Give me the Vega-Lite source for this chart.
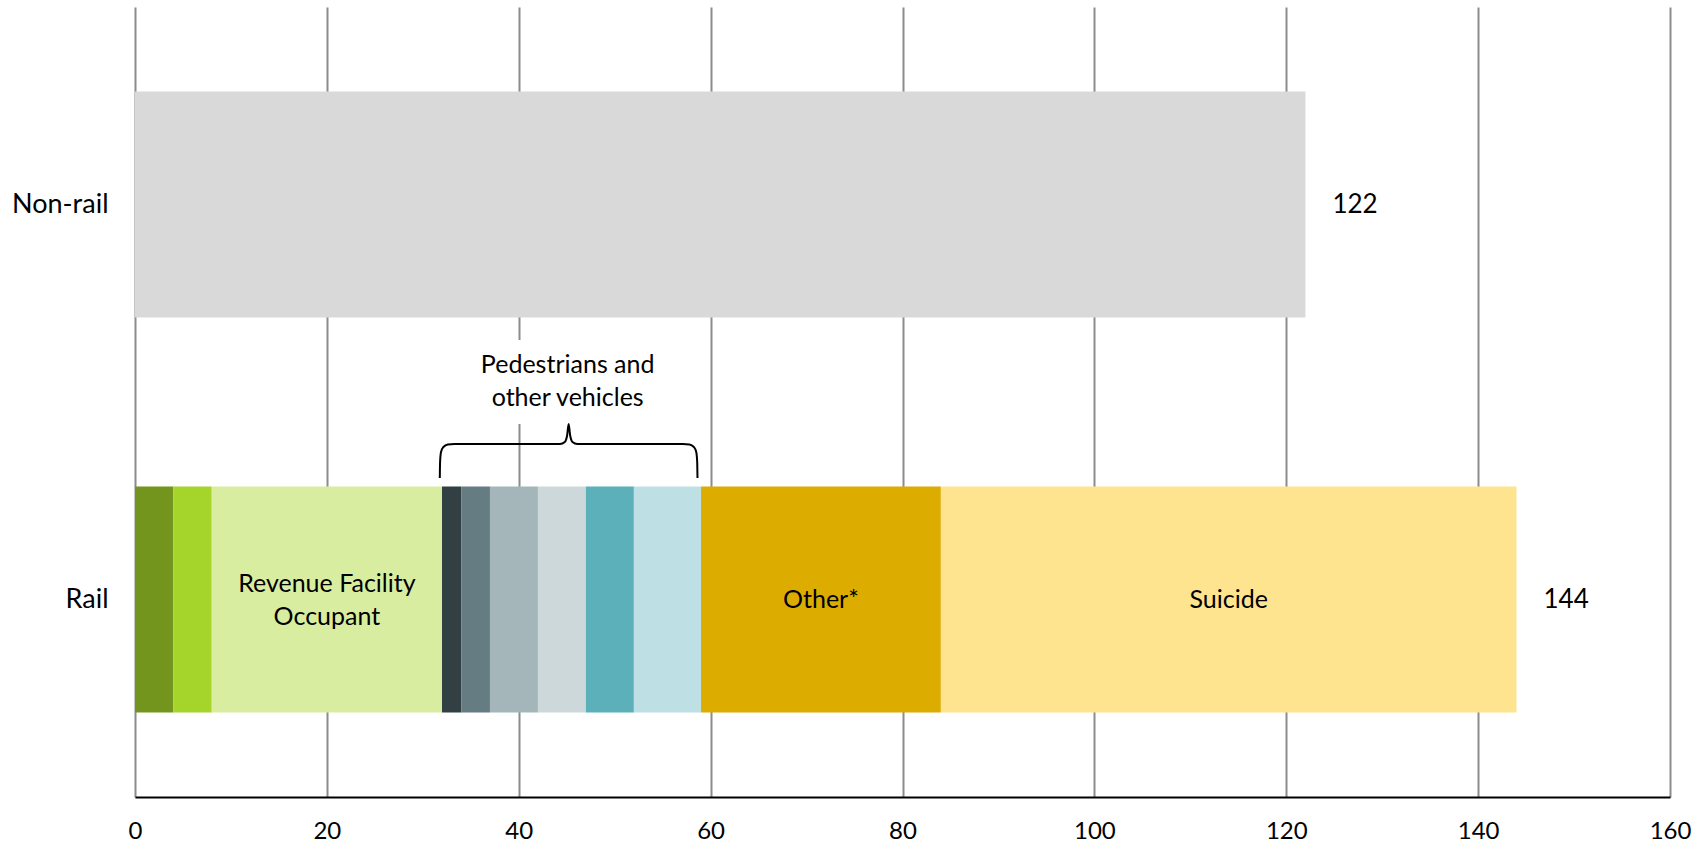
{
  "$schema": "https://vega.github.io/schema/vega-lite/v6.json",
  "width": 1535,
  "height": 790,
  "autosize": {"type": "none"},
  "padding": {"left": 135, "top": 7, "right": 36, "bottom": 47},
  "background": "white",
  "config": {"view": {"stroke": null}, "font": "Lato", "text": {"font": "Lato"}},
  "datasets": {
    "segments": [
      {"category": "Non-rail", "segment": "Non-rail", "value": 122, "order": 1, "label": ""},
      {"category": "Rail", "segment": "Rail A", "value": 4, "order": 1, "label": ""},
      {"category": "Rail", "segment": "Rail B", "value": 4, "order": 2, "label": ""},
      {"category": "Rail", "segment": "Revenue Facility Occupant", "value": 24, "order": 3, "label": "Revenue Facility\nOccupant"},
      {"category": "Rail", "segment": "Pedestrians/vehicles 1", "value": 2, "order": 4, "label": ""},
      {"category": "Rail", "segment": "Pedestrians/vehicles 2", "value": 3, "order": 5, "label": ""},
      {"category": "Rail", "segment": "Pedestrians/vehicles 3", "value": 5, "order": 6, "label": ""},
      {"category": "Rail", "segment": "Pedestrians/vehicles 4", "value": 5, "order": 7, "label": ""},
      {"category": "Rail", "segment": "Pedestrians/vehicles 5", "value": 5, "order": 8, "label": ""},
      {"category": "Rail", "segment": "Pedestrians/vehicles 6", "value": 7, "order": 9, "label": ""},
      {"category": "Rail", "segment": "Other*", "value": 25, "order": 10, "label": "Other*"},
      {"category": "Rail", "segment": "Suicide", "value": 60, "order": 11, "label": "Suicide"}
    ],
    "brace": [
      {"i": 1, "x": 31.77, "y": 319},
      {"i": 2, "x": 31.8, "y": 335},
      {"i": 3, "x": 31.9, "y": 345},
      {"i": 4, "x": 32.15, "y": 350},
      {"i": 5, "x": 32.6, "y": 352.5},
      {"i": 6, "x": 33.3, "y": 353},
      {"i": 7, "x": 44.3, "y": 353},
      {"i": 8, "x": 44.8, "y": 355},
      {"i": 9, "x": 45.05, "y": 362},
      {"i": 10, "x": 45.2, "y": 373},
      {"i": 11, "x": 45.35, "y": 362},
      {"i": 12, "x": 45.6, "y": 355},
      {"i": 13, "x": 46.1, "y": 353},
      {"i": 14, "x": 57.1, "y": 353},
      {"i": 15, "x": 57.8, "y": 352.5},
      {"i": 16, "x": 58.25, "y": 350},
      {"i": 17, "x": 58.5, "y": 345},
      {"i": 18, "x": 58.6, "y": 335},
      {"i": 19, "x": 58.63, "y": 319}
    ],
    "note": [
      {"text": "Pedestrians and\nother vehicles", "x": 45.1, "y": 432, "x0": 33, "x1": 59.8, "y0": 373, "y1": 457}
    ]
  },
  "layer": [
    {
      "data": {"name": "segments"},
      "transform": [
        {"stack": "value", "groupby": ["category"], "sort": [{"field": "order", "order": "ascending"}], "as": ["x0", "x1"]}
      ],
      "encoding": {
        "y": {
          "field": "category",
          "type": "nominal",
          "title": null,
          "scale": {"domain": ["Non-rail", "Rail"], "paddingInner": 0.428, "paddingOuter": 0.214},
          "axis": {"domain": false, "ticks": false, "grid": false, "labelFontSize": 27, "labelColor": "black", "labelPadding": 27, "labelFont": "Lato"}
        }
      },
      "layer": [
        {
          "mark": {"type": "bar"},
          "encoding": {
            "x": {
              "field": "x0",
              "type": "quantitative",
              "title": null,
              "scale": {"domain": [0, 160], "nice": false},
              "axis": {
                "values": [0, 20, 40, 60, 80, 100, 120, 140, 160],
                "grid": true,
                "gridColor": "#8c8c8c",
                "gridWidth": 2,
                "ticks": false,
                "domain": true,
                "domainColor": "black",
                "domainWidth": 2,
                "labelFontSize": 24,
                "labelFont": "Lato",
                "labelColor": "black",
                "labelPadding": 22,
                "labelFlush": false
              }
            },
            "x2": {"field": "x1"},
            "color": {
              "field": "segment",
              "type": "nominal",
              "legend": null,
              "scale": {
                "domain": ["Non-rail", "Rail A", "Rail B", "Revenue Facility Occupant", "Pedestrians/vehicles 1", "Pedestrians/vehicles 2", "Pedestrians/vehicles 3", "Pedestrians/vehicles 4", "Pedestrians/vehicles 5", "Pedestrians/vehicles 6", "Other*", "Suicide"],
                "range": ["#d9d9d9", "#74951d", "#a5d42a", "#d9eda1", "#323f43", "#647c82", "#a4b6ba", "#cdd8da", "#5bb0b9", "#bedfe3", "#dcac00", "#fee48f"]
              }
            }
          }
        },
        {
          "transform": [
            {"filter": "datum.label != '' && indexof(datum.label, '\\n') < 0"},
            {"calculate": "(datum.x0 + datum.x1) / 2", "as": "mid"}
          ],
          "mark": {"type": "text", "fontSize": 25, "color": "black", "align": "center", "baseline": "middle"},
          "encoding": {
            "x": {"field": "mid", "type": "quantitative", "title": null},
            "text": {"field": "label"}
          }
        },
        {
          "transform": [
            {"filter": "indexof(datum.label, '\\n') >= 0"},
            {"calculate": "(datum.x0 + datum.x1) / 2", "as": "mid"}
          ],
          "mark": {"type": "text", "lineBreak": "\n", "fontSize": 25, "lineHeight": 33, "color": "black", "align": "center", "baseline": "middle", "dy": -16},
          "encoding": {
            "x": {"field": "mid", "type": "quantitative", "title": null},
            "text": {"field": "label"}
          }
        },
        {
          "transform": [
            {"aggregate": [{"op": "sum", "field": "value", "as": "total"}], "groupby": ["category"]}
          ],
          "mark": {"type": "text", "fontSize": 26, "color": "black", "align": "left", "baseline": "middle", "dx": 27},
          "encoding": {
            "x": {"field": "total", "type": "quantitative", "title": null},
            "text": {"field": "total", "type": "quantitative"}
          }
        }
      ]
    },
    {
      "layer": [
        {
          "data": {"name": "note"},
          "mark": {"type": "rect", "color": "white"},
          "encoding": {
            "x": {"field": "x0", "type": "quantitative", "title": null},
            "x2": {"field": "x1"},
            "y": {"field": "y0", "type": "quantitative", "scale": {"domain": [0, 790], "nice": false, "zero": false}, "axis": null},
            "y2": {"field": "y1"}
          }
        },
        {
          "data": {"name": "brace"},
          "mark": {"type": "line", "color": "black", "strokeWidth": 2, "interpolate": "monotone"},
          "encoding": {
            "x": {"field": "x", "type": "quantitative", "title": null},
            "y": {"field": "y", "type": "quantitative", "axis": null},
            "order": {"field": "i", "type": "quantitative"}
          }
        },
        {
          "data": {"name": "note"},
          "mark": {"type": "text", "lineBreak": "\n", "fontSize": 25, "lineHeight": 33, "color": "black", "align": "center", "baseline": "middle"},
          "encoding": {
            "x": {"field": "x", "type": "quantitative", "title": null},
            "y": {"field": "y", "type": "quantitative", "axis": null},
            "text": {"field": "text"}
          }
        }
      ]
    }
  ],
  "resolve": {"scale": {"y": "independent"}, "axis": {"y": "independent"}}
}
